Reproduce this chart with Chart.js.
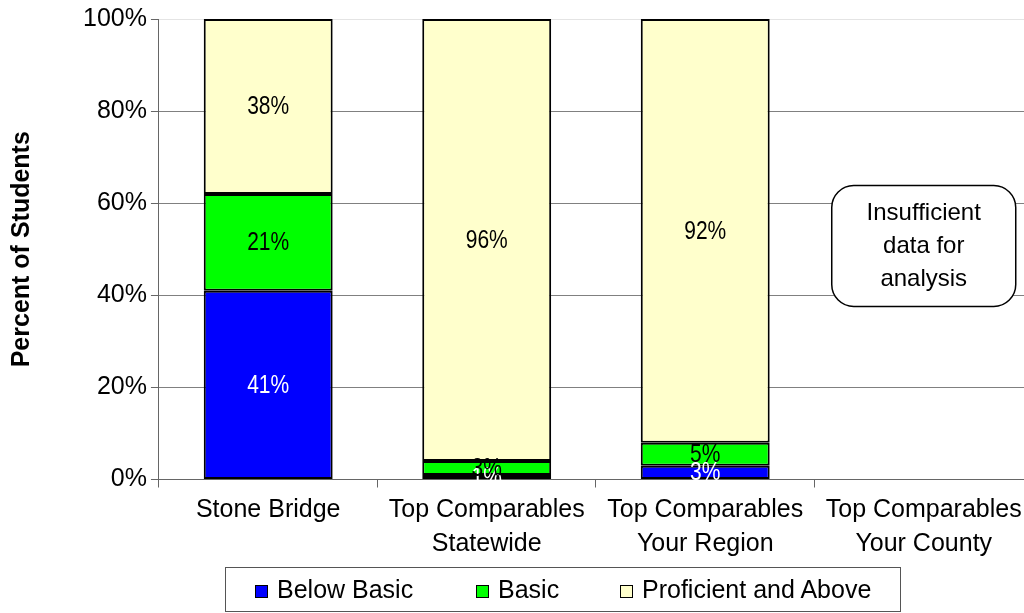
<!DOCTYPE html>
<html>
<head>
<meta charset="utf-8">
<script src="https://cdn.jsdelivr.net/npm/chart.js@4/dist/chart.umd.min.js"></script>
<style>
  html, body { margin: 0; background: #fff; overflow: hidden; }
  #wrap { position: relative; width: 1024px; height: 613px; overflow: hidden; }
  #myChart { position: absolute; left: 0; top: 0; }
  #legend {
    position: absolute; left: 225px; top: 567px; width: 676px; height: 45px;
    border: 1px solid #555; box-sizing: border-box;
    font-family: 'Liberation Sans', Arial, sans-serif; font-size: 25px; color: #000;
  }
  .item { position: absolute; top: 0; height: 43px; display: flex; align-items: center; white-space: nowrap; }
  .sw { width: 11px; height: 11px; border: 1px solid #000; margin-right: 9px; margin-top: 4px; }
</style>
</head>
<body>
<div id="wrap">
  <canvas id="myChart" width="1040" height="613"></canvas>
  <div id="legend"></div>
</div>
<script>
//data
var categories = [
  ['Stone Bridge'],
  ['Top Comparables', 'Statewide'],
  ['Top Comparables', 'Your Region'],
  ['Top Comparables', 'Your County']
];
var seriesNames = ['Below Basic', 'Basic', 'Proficient and Above'];
var belowBasic = [41, 1, 3, null];
var basic = [21, 3, 5, null];
var proficient = [38, 96, 92, null];
var yTicks = [0, 20, 40, 60, 80, 100];
var noteText = ['Insufficient', 'data for', 'analysis'];

var colors = ['#0000FF', '#00FF00', '#FFFFCC'];
var labelColors = ['#FFFFFF', '#000000', '#000000'];
var legendLeft = [29, 250, 394];
var FONT = "'Liberation Sans', Arial, sans-serif";

//html legend
var legend = document.getElementById('legend');
seriesNames.forEach(function(name, i) {
  var it = document.createElement('div');
  it.className = 'item';
  it.style.left = legendLeft[i] + 'px';
  it.innerHTML = '<span class="sw" style="background:' + colors[i] + '"></span><span>' + name + '</span>';
  legend.appendChild(it);
});

//segment labels in the middle of each bar piece (narrow font look)
var segLabels = {
  id: 'segLabels',
  afterDatasetsDraw: function(chart) {
    var ctx = chart.ctx;
    chart.data.datasets.forEach(function(ds, di) {
      var meta = chart.getDatasetMeta(di);
      meta.data.forEach(function(bar, i) {
        var v = ds.data[i];
        if (v == null) return;
        ctx.save();
        ctx.translate(bar.x, (bar.y + bar.base) / 2 + 1);
        ctx.scale(0.84, 1);
        ctx.font = '25px ' + FONT;
        ctx.textAlign = 'center';
        ctx.textBaseline = 'middle';
        ctx.fillStyle = labelColors[di];
        ctx.fillText(v + '%', 0, 0);
        ctx.restore();
      });
    });
  }
};

//rounded note box over the empty category
var noteBox = {
  id: 'noteBox',
  afterDraw: function(chart) {
    var ctx = chart.ctx;
    var x = chart.scales.x.getPixelForValue(3);
    var y = chart.scales.y.getPixelForValue(50.7);
    var w = 184, h = 121;
    ctx.save();
    ctx.fillStyle = '#fff';
    ctx.strokeStyle = '#000';
    ctx.lineWidth = 1.5;
    ctx.beginPath();
    ctx.roundRect(x - w / 2, y - h / 2, w, h, 22);
    ctx.fill();
    ctx.stroke();
    ctx.fillStyle = '#000';
    ctx.font = '24px ' + FONT;
    ctx.textAlign = 'center';
    ctx.textBaseline = 'middle';
    noteText.forEach(function(t, i) {
      ctx.fillText(t, x, y + (i - 1) * 33);
    });
    ctx.restore();
  }
};

var ctx = document.getElementById('myChart').getContext('2d');
var myChart = new Chart(ctx, {
  type: 'bar',
  data: {
    labels: categories,
    datasets: [belowBasic, basic, proficient].map(function(d, i) {
      return {
        label: seriesNames[i],
        data: d,
        backgroundColor: colors[i],
        borderColor: '#000',
        borderWidth: 2,
        borderSkipped: false,
        barPercentage: 0.59,
        categoryPercentage: 1
      };
    })
  },
  plugins: [segLabels, noteBox],
  options: {
    responsive: false,
    animation: false,
    devicePixelRatio: 1,
    layout: { padding: { left: 7, top: 9, right: 7, bottom: 46 } },
    plugins: {
      legend: { display: false },
      tooltip: { enabled: false }
    },
    scales: {
      x: {
        stacked: true,
        grid: { offset: true, drawOnChartArea: false, tickLength: 8, color: '#666' },
        border: { color: '#666', width: 1 },
        ticks: { color: '#000', font: { family: FONT, size: 25, lineHeight: 1.35 }, padding: 6, maxRotation: 0, autoSkip: false }
      },
      y: {
        stacked: true,
        min: 0,
        max: 100,
        afterBuildTicks: function(axis) {
          axis.ticks = yTicks.map(function(v) { return { value: v }; });
        },
        grid: {
          color: function(c) { return c.tick && c.tick.value === 100 ? '#e4e4e4' : '#808080'; },
          tickColor: '#666',
          tickLength: 8
        },
        border: { color: '#666', width: 1 },
        ticks: {
          color: '#000',
          font: { family: FONT, size: 25 },
          padding: 4,
          callback: function(v) { return v + '%'; }
        },
        title: {
          display: true,
          text: 'Percent of Students',
          color: '#000',
          font: { family: FONT, size: 25, weight: 'bold' },
          padding: { top: 0, bottom: 42 }
        }
      }
    }
  }
});
</script>
</body>
</html>
